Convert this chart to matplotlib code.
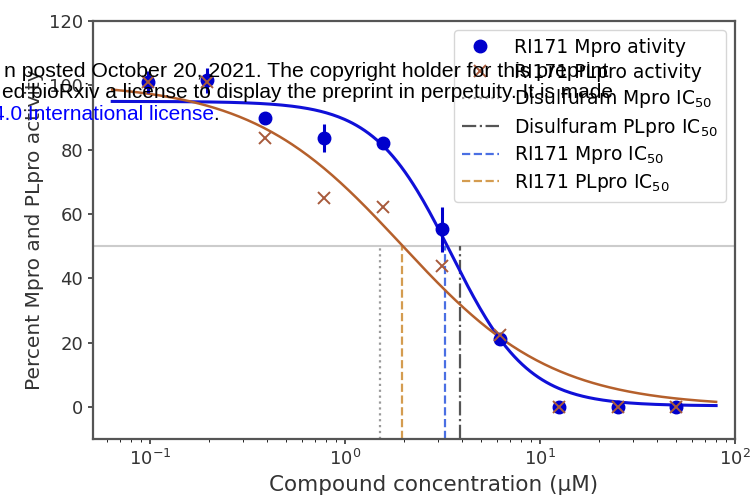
import matplotlib.pyplot as plt
import numpy as np

# measured concentrations (uM) and activities (%)
conc = [0.0977, 0.195, 0.39, 0.78, 1.56, 3.125, 6.25, 12.5, 25, 50]
mpro = [101, 101.5, 89.8, 83.6, 82.1, 55.3, 21.2, 0, 0, 0]
mpro_err = [3.5, 4.0, 1.0, 4.3, 1.0, 7.0, 1.5, 0.5, 0.5, 0.5]
plpro = [101, 101, 83.6, 65, 62.2, 43.8, 22.5, 0, 0, 0]

# dose-response fit parameters (top, bottom, ic50, hill)
mpro_fit = (95.0, 0.3, 3.5, 2.2)
plpro_fit = (100.8, 0.0, 1.95, 1.12)

# IC50 markers
ic50_labels = ["Disulfuram Mpro IC$_{50}$", "Disulfuram PLpro IC$_{50}$",
               "RI171 Mpro IC$_{50}$", "RI171 PLpro IC$_{50}$"]
ic50_values = [1.51, 3.89, 3.26, 1.95]
ic50_styles = [":", "-.", "--", "--"]
ic50_colors = ["#9a9a9a", "#555555", "#4a6fe3", "#d49c50"]


def hill(x, top, bottom, ic50, h):
    return bottom + (top - bottom) / (1 + (x / ic50) ** h)


fig = plt.figure(figsize=(7.55, 4.96), dpi=100)
ax = fig.add_axes([93 / 755, 1 - 439 / 496, (735 - 93) / 755, (439 - 21) / 496])

xs = np.logspace(np.log10(0.064), np.log10(80), 300)

ax.axhline(50, color="#cccccc", lw=1.5, zorder=1)

ax.plot(xs, hill(xs, *mpro_fit), color="#1010d8", lw=2.2, zorder=3)
ax.plot(xs, hill(xs, *plpro_fit), color="#b5602c", lw=1.8, zorder=3)

ax.errorbar(conc, mpro, yerr=mpro_err, fmt="none", ecolor="#0000cc", elinewidth=2.2, zorder=4)
ax.plot(conc, mpro, "o", color="#0000cc", ms=9, label="RI171 Mpro ativity", zorder=5)
ax.plot(conc, plpro, "x", color="#a85a3c", ms=8, mew=1.4, label="RI171 PLpro activity", zorder=6)

for v, lab, ls, c in zip(ic50_values, ic50_labels, ic50_styles, ic50_colors):
    ax.plot([v, v], [-10, 50], ls=ls, color=c, lw=1.6, label=lab, zorder=2)

ax.set_xscale("log")
ax.set_xlim(0.051, 100)
ax.set_ylim(-10, 120)
ax.set_yticks([0, 20, 40, 60, 80, 100, 120])
ax.set_xlabel("Compound concentration (µM)", fontsize=15.5, color="#333333")
ax.xaxis.set_label_coords(0.531, -0.085)
ax.set_ylabel("Percent Mpro and PLpro activity", fontsize=14.5, color="#333333")
ax.tick_params(labelsize=13, colors="#444444", labelcolor="#333333", width=1.3)
for s in ax.spines.values():
    s.set_color("#555555")
    s.set_linewidth(1.6)

ax.legend(loc="upper right", fontsize=13.5, handlelength=2.0, labelspacing=0.3)

# bioRxiv watermark overlay
fig.text(4 / 755, 1 - 77 / 496, "n posted October 20, 2021. The copyright holder for this preprint",
         fontsize=15.3, family="Liberation Sans", color="black", va="baseline")
fig.text(2 / 755, 1 - 98 / 496, "ed bioRxiv a license to display the preprint in perpetuity. It is made",
         fontsize=15, family="Liberation Sans", color="black", va="baseline")
fig.text(-7 / 755, 1 - 120 / 496, "4.0 International license",
         fontsize=15, family="Liberation Sans", color="blue", va="baseline")
fig.text(213 / 755, 1 - 120 / 496, ".",
         fontsize=15, family="Liberation Sans", color="black", va="baseline")

fig.savefig("out.png", dpi=100)
